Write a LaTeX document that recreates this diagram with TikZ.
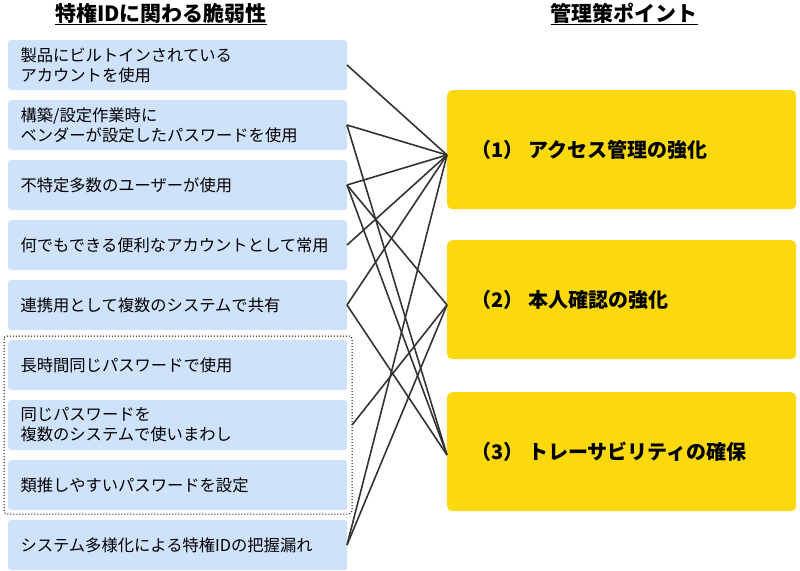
\documentclass[tikz,border=0pt]{standalone}
\usepackage{fontspec}
\setmainfont{Noto Sans CJK JP}
\begin{document}
\begin{tikzpicture}[x=1pt,y=-1pt,
  lbox/.style={fill={rgb,255:red,207;green,226;blue,251}, rounded corners=3pt, minimum width=339pt, minimum height=50pt, anchor=north west, inner sep=0pt},
  rbox/.style={fill={rgb,255:red,252;green,217;blue,12}, rounded corners=5pt, minimum width=349pt, minimum height=119pt, anchor=north west, inner sep=0pt},
  ltxt/.style={anchor=west, align=left, font=\fontsize{16.3}{20}\selectfont},
  rtxt/.style={anchor=west, font=\fontsize{20}{22}\selectfont\bfseries},
  conn/.style={draw={rgb,255:red,51;green,51;blue,51}, line width=1.6pt}]
\useasboundingbox (0,0) rectangle (800,570);
\node[font=\fontsize{21}{24}\selectfont\bfseries] (t1) at (161,14) {\underline{特権IDに関わる脆弱性}};
\node[font=\fontsize{21}{24}\selectfont\bfseries] (t2) at (624,14) {\underline{管理策ポイント}};
\foreach \i/\y/\t in {1/40/{製品にビルトインされている\\アカウントを使用},2/100/{構築/設定作業時に\\ベンダーが設定したパスワードを使用},3/160/{不特定多数のユーザーが使用},4/220/{何でもできる便利なアカウントとして常用},5/280/{連携用として複数のシステムで共有},6/340/{長時間同じパスワードで使用},7/400/{同じパスワードを\\複数のシステムで使いまわし},8/460/{類推しやすいパスワードを設定},9/520/{システム多様化による特権IDの把握漏れ}}{
  \node[lbox] (L\i) at (8,\y) {};
  \node[ltxt] (LT\i) at (17,\y+25) {\t};
}
\draw[dotted, line width=1pt, rounded corners=3pt] (4,336) rectangle (352,514);
\coordinate (G) at (352,425);
\node[rbox] (A) at (447,90) {};
\node[rbox] (B) at (447,240) {};
\node[rbox] (C) at (447,392) {};
\node[rtxt] (AT) at (468,150) {（1） アクセス管理の強化};
\node[rtxt] (BT) at (468,300) {（2） 本人確認の強化};
\node[rtxt] (CT) at (468,452) {（3） トレーサビリティの確保};
\coordinate (L1e) at (347,65);
\coordinate (L2e) at (347,125);
\coordinate (L3e) at (347,185);
\coordinate (L4e) at (347,245);
\coordinate (L5e) at (347,305);
\coordinate (L9e) at (347,545);
\coordinate (Ae) at (447,155);
\coordinate (Be) at (447,305);
\coordinate (Ce) at (447,455);
\draw[conn] (L1e) -- (Ae);
\draw[conn] (L2e) -- (Ae); \draw[conn] (L2e) -- (Ce);
\draw[conn] (L3e) -- (Ae); \draw[conn] (L3e) -- (Be); \draw[conn] (L3e) -- (Ce);
\draw[conn] (L4e) -- (Ae);
\draw[conn] (L5e) -- (Ae); \draw[conn] (L5e) -- (Ce);
\draw[conn] (G) -- (Be);
\draw[conn] (L9e) -- (Ae); \draw[conn] (L9e) -- (Be);
\end{tikzpicture}
\end{document}
